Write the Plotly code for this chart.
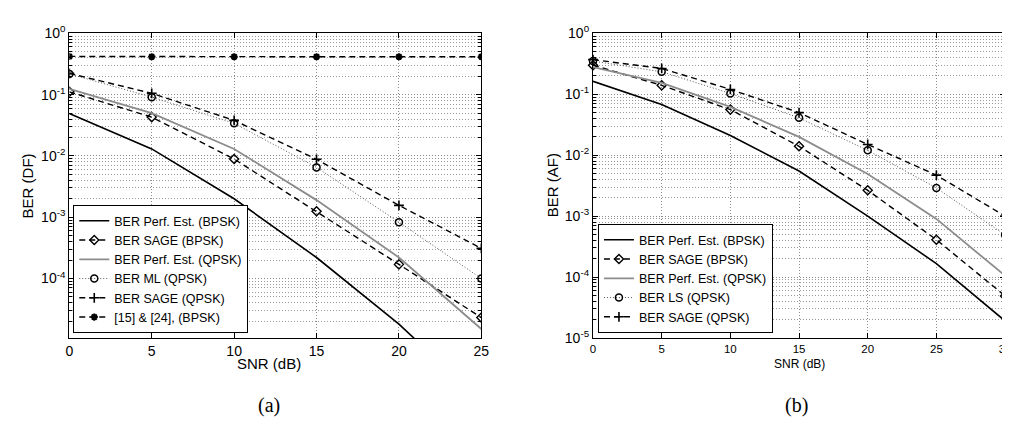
import plotly.graph_objects as go

# ---------------- data ----------------
snr_a = [0, 5, 10, 15, 20, 25]
a_perf_bpsk = [0.049, 0.013, 0.002, 2.2e-4, 1.8e-5, 1.0e-6]
a_sage_bpsk = [0.111, 0.043, 0.0089, 1.25e-3, 1.7e-4, 2.3e-5]
a_perf_qpsk = [0.124, 0.05, 0.013, 1.9e-3, 2.2e-4, 1.5e-5]
a_ml_qpsk = [0.218, 0.091, 0.034, 6.5e-3, 8.3e-4, 1.0e-4]
a_sage_qpsk = [0.222, 0.105, 0.038, 8.8e-3, 1.56e-3, 3.1e-4]
a_ref_bpsk = [0.42, 0.415, 0.415, 0.415, 0.415, 0.415]

snr_b = [0, 5, 10, 15, 20, 25, 30]
b_perf_bpsk = [0.163, 0.068, 0.021, 5.5e-3, 1.0e-3, 1.66e-4, 1.9e-5]
b_sage_bpsk = [0.30, 0.14, 0.056, 0.014, 2.65e-3, 4.1e-4, 4.9e-5]
b_perf_qpsk = [0.28, 0.154, 0.062, 0.02, 4.9e-3, 9.0e-4, 1.05e-4]
b_ls_qpsk = [0.35, 0.234, 0.103, 0.041, 0.012, 2.9e-3, 4.9e-4]
b_sage_qpsk = [0.37, 0.265, 0.12, 0.05, 0.015, 4.7e-3, 1.0e-3]

legend_a = ["BER Perf. Est. (BPSK)", "BER SAGE (BPSK)", "BER Perf. Est. (QPSK)",
            "BER ML (QPSK)", "BER SAGE (QPSK)", "[15] & [24], (BPSK)"]
legend_b = ["BER Perf. Est. (BPSK)", "BER SAGE (BPSK)", "BER Perf. Est. (QPSK)",
            "BER LS (QPSK)", "BER SAGE (QPSK)"]

ytick_vals = [1, 0.1, 0.01, 0.001, 1e-4, 1e-5]
ytick_text_a = ["10<sup>0</sup>", "10<sup>-1</sup>", "10<sup>-2</sup>", "10<sup>-3</sup>", "10<sup>-4</sup>", ""]
ytick_text_b = ["10<sup>0</sup>", "10<sup>-1</sup>", "10<sup>-2</sup>", "10<sup>-3</sup>", "10<sup>-4</sup>", "10<sup>-5</sup>"]
xticks_a = [0, 5, 10, 15, 20, 25]
xticks_b = [0, 5, 10, 15, 20, 25, 30]

# ---------------- styles ----------------
FONT = "Liberation Sans, Arial, sans-serif"
GRAY = "#8c8c8c"

def style(kind):
    if kind == "perf_bpsk":
        return dict(mode="lines", line=dict(color="black", width=1.6))
    if kind == "sage_bpsk":
        return dict(mode="lines+markers", line=dict(color="black", width=1.4, dash="6px,4px"),
                    marker=dict(symbol="diamond-open", size=7, color="black", line=dict(width=1.4, color="black")))
    if kind == "perf_qpsk":
        return dict(mode="lines", line=dict(color=GRAY, width=1.8))
    if kind == "ml_qpsk":
        return dict(mode="lines+markers", line=dict(color="#555555", width=1, dash="1px,2px"),
                    marker=dict(symbol="circle-open", size=7, color="black", line=dict(width=1.5, color="black")))
    if kind == "sage_qpsk":
        return dict(mode="lines+markers", line=dict(color="black", width=1.4, dash="6px,4px"),
                    marker=dict(symbol="cross-thin-open", size=7, color="black", line=dict(width=1.6, color="black")))
    if kind == "ref":
        return dict(mode="lines+markers", line=dict(color="black", width=1.4, dash="6px,4px"),
                    marker=dict(symbol="asterisk-open", size=6, color="black", line=dict(width=2.0, color="black")))

fig = go.Figure()

kinds_a = ["perf_bpsk", "sage_bpsk", "perf_qpsk", "ml_qpsk", "sage_qpsk", "ref"]
series_a = [a_perf_bpsk, a_sage_bpsk, a_perf_qpsk, a_ml_qpsk, a_sage_qpsk, a_ref_bpsk]
for name, k, ys in zip(legend_a, kinds_a, series_a):
    fig.add_trace(go.Scatter(x=snr_a, y=ys, name=name, xaxis="x", yaxis="y",
                             legend="legend", cliponaxis=True, **style(k)))

kinds_b = ["perf_bpsk", "sage_bpsk", "perf_qpsk", "ml_qpsk", "sage_qpsk"]
series_b = [b_perf_bpsk, b_sage_bpsk, b_perf_qpsk, b_ls_qpsk, b_sage_qpsk]
for name, k, ys in zip(legend_b, kinds_b, series_b):
    fig.add_trace(go.Scatter(x=snr_b, y=ys, name=name, xaxis="x2", yaxis="y2",
                             legend="legend2", cliponaxis=False, **style(k)))

minor_vals = [m * 10.0 ** e for e in range(-5, 0) for m in range(2, 10)]

grid = dict(showgrid=True, gridcolor="#8a8a8a", griddash="1px,2px", gridwidth=1)
common_x = dict(showline=True, linecolor="black", linewidth=1.2, mirror="allticks",
                ticks="inside", ticklen=5, tickcolor="black", zeroline=False, **grid)
common_y = dict(type="log", showline=True, linecolor="black", linewidth=1.2, mirror="allticks",
                ticks="inside", ticklen=5, tickcolor="black", zeroline=False,
                tickvals=ytick_vals,
                tickfont=dict(family=FONT, size=14, color="black"),
                minor=dict(tickvals=minor_vals, ticks="inside", ticklen=3, tickcolor="black",
                           showgrid=True, gridcolor="#9a9a9a", griddash="1px,2px", gridwidth=1),
                **grid)

ytop = 1 - 16 / 428
ybot = 1 - 334 / 428

legend_common = dict(y=1 - 329 / 428, xanchor="left", yanchor="bottom",
                     bgcolor="white", bordercolor="black", borderwidth=1,
                     font=dict(family=FONT, size=12.5, color="black"),
                     tracegroupgap=0, itemwidth=30)

fig.update_layout(
    width=1010, height=428,
    margin=dict(l=0, r=0, t=0, b=0),
    paper_bgcolor="white", plot_bgcolor="white",
    font=dict(family=FONT, color="black"),
    xaxis=dict(domain=[58 / 1010, 475 / 1010], range=[0, 25], tickvals=xticks_a, anchor="y",
               tickfont=dict(family=FONT, size=14, color="black"), **common_x),
    yaxis=dict(domain=[ybot, ytop], range=[-4.97, 0], ticktext=ytick_text_a, anchor="x", **common_y),
    xaxis2=dict(domain=[588 / 1010, 1005 / 1010], range=[0, 30], tickvals=xticks_b, anchor="y2",
                tickfont=dict(family=FONT, size=11.5, color="black"), **common_x),
    yaxis2=dict(domain=[ybot, ytop], range=[-5, 0], ticktext=ytick_text_b, anchor="x2", **common_y),
    legend=dict(x=62 / 1010, **legend_common),
    legend2=dict(x=593 / 1010, **legend_common),
    showlegend=True,
)

annots = [
    dict(text="BER (DF)", x=16 / 1010, y=1 - 175 / 428, textangle=-90, font=dict(size=15)),
    dict(text="BER (AF)", x=547 / 1010, y=1 - 175 / 428, textangle=-90, font=dict(size=15)),
    dict(text="SNR (dB)", x=260 / 1010, y=1 - 361 / 428, font=dict(size=15)),
    dict(text="SNR (dB)", x=797 / 1010, y=1 - 361 / 428, font=dict(size=12)),
    dict(text="(a)", x=260 / 1010, y=1 - 404 / 428, font=dict(size=20, family="Liberation Serif, DejaVu Serif, serif")),
    dict(text="(b)", x=794 / 1010, y=1 - 404 / 428, font=dict(size=20, family="Liberation Serif, DejaVu Serif, serif")),
]
for a in annots:
    f = dict(family=FONT, color="black")
    f.update(a.pop("font"))
    fig.add_annotation(xref="paper", yref="paper", showarrow=False,
                       xanchor="center", yanchor="middle", font=f, **a)

fig.write_html("out.html")
